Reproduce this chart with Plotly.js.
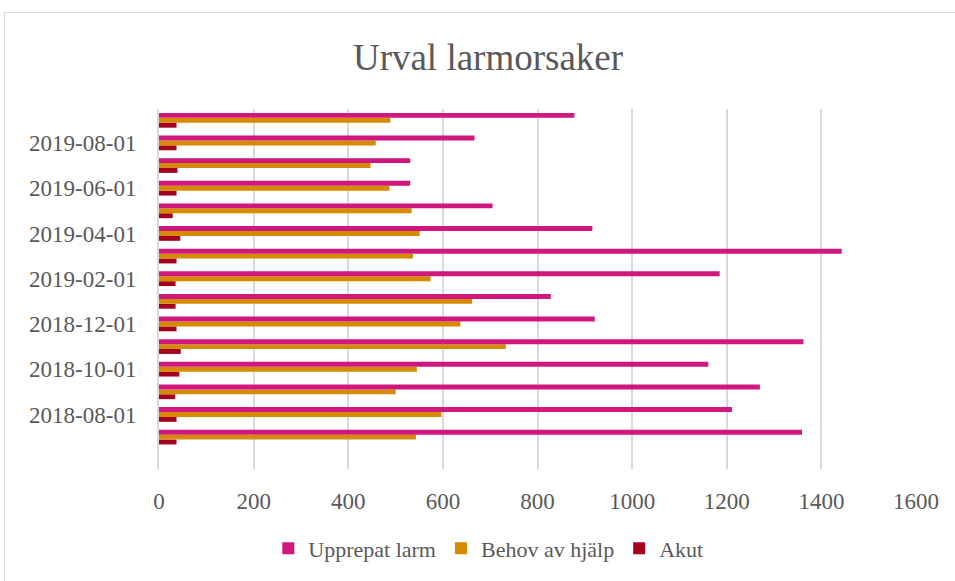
<!DOCTYPE html>
<html>
<head>
<meta charset="utf-8">
<script src="https://cdn.plot.ly/plotly-3.0.1.min.js"></script>
<style>
  html, body { margin: 0; padding: 0; background: #fff; }
  #frame { position: absolute; left: 4px; top: 12px; width: 960px; height: 580px; border: 1px solid #d9d9d9; box-sizing: border-box; }
  #chart { position: absolute; left: 0; top: 0; width: 955px; height: 581px; }
</style>
</head>
<body>
<div id="frame"></div>
<div id="chart"></div>
<script>
// Months, oldest first (plotly puts the first category at the bottom)
var months = ['2018-07-01', '2018-08-01', '2018-09-01', '2018-10-01', '2018-11-01',
    '2018-12-01', '2019-01-01', '2019-02-01', '2019-03-01', '2019-04-01',
    '2019-05-01', '2019-06-01', '2019-07-01', '2019-08-01', '2019-09-01'];

var upprepatLarm = [1359, 1211, 1270, 1161, 1362, 921, 828, 1185, 1443, 916, 705, 531, 531, 667, 878];
var behovAvHjalp = [543, 597, 500, 545, 733, 637, 662, 574, 537, 551, 534, 487, 447, 458, 489];
var akut = [37, 37, 34, 43, 46, 37, 35, 35, 37, 45, 29, 37, 39, 37, 37];

var shownTicks = ['2018-08-01', '2018-10-01', '2018-12-01', '2019-02-01',
    '2019-04-01', '2019-06-01', '2019-08-01'];

var textColor = '#595959';
var font = 'Liberation Serif, Times New Roman, serif';

// Akut first so Upprepat larm sits at the top of each group
var traces = [
    {name: 'Akut', y: months, x: akut, color: '#a50021'},
    {name: 'Behov av hjälp', y: months, x: behovAvHjalp, color: '#d68a00'},
    {name: 'Upprepat larm', y: months, x: upprepatLarm, color: '#d0177d'}
].map(function (t) {
    return {
        type: 'bar',
        orientation: 'h',
        name: t.name,
        x: t.x,
        y: t.y,
        marker: {color: t.color},
        hoverinfo: 'x+name'
    };
});

Plotly.newPlot('chart', traces, {
    width: 955,
    height: 581,
    paper_bgcolor: 'rgba(0,0,0,0)',
    plot_bgcolor: 'rgba(0,0,0,0)',
    margin: {l: 159, r: 39, t: 109, b: 110},
    font: {family: font, color: textColor, size: 22},
    title: {
        text: 'Urval larmorsaker',
        font: {family: font, size: 37, color: textColor},
        x: 0.511,
        xanchor: 'center',
        y: 0.902,
        yanchor: 'middle'
    },
    barmode: 'group',
    bargap: 0.35,
    bargroupgap: 0,
    xaxis: {
        range: [0, 1600],
        dtick: 200,
        showgrid: true,
        gridcolor: '#d9d9d9',
        gridwidth: 2,
        zeroline: false,
        showline: false,
        ticks: 'outside',
        ticklen: 11,
        tickcolor: 'rgba(0,0,0,0)',
        tickfont: {family: font, size: 23, color: textColor}
    },
    yaxis: {
        type: 'category',
        range: [-1.41, 14.5],
        tickmode: 'array',
        tickvals: shownTicks,
        ticktext: shownTicks,
        showgrid: false,
        showline: true,
        linecolor: '#d9d9d9',
        linewidth: 2,
        ticks: 'outside',
        ticklen: 16,
        tickcolor: 'rgba(0,0,0,0)',
        tickfont: {family: font, size: 23, color: textColor}
    },
    showlegend: true,
    legend: {
        orientation: 'h',
        traceorder: 'reversed',
        x: 0.435,
        xanchor: 'center',
        y: -0.221,
        yanchor: 'middle',
        font: {family: font, size: 22, color: textColor},
        itemwidth: 30
    }
}, {displayModeBar: false});
</script>
</body>
</html>
